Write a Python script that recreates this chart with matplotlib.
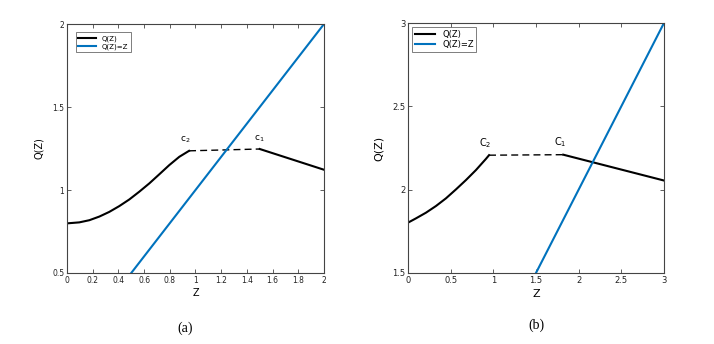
import numpy as np
import matplotlib.pyplot as plt

# panel (a) data
za = [0, 0.096, 0.174, 0.252, 0.329, 0.407, 0.485, 0.563, 0.641, 0.719, 0.796, 0.874, 0.95]
qa = [0.799, 0.805, 0.818, 0.840, 0.868, 0.903, 0.943, 0.99, 1.04, 1.095, 1.15, 1.200, 1.236]
za_flat = [0.95, 1.5]
qa_flat = [1.236, 1.247]
za_tail = [1.5, 2.0]
qa_tail = [1.247, 1.122]
za_id = [0.5, 2.0]

# panel (b) data
zb = [0, 0.094, 0.211, 0.328, 0.445, 0.563, 0.68, 0.797, 0.914, 0.95]
qb = [1.802, 1.828, 1.862, 1.902, 1.948, 2.002, 2.058, 2.118, 2.185, 2.207]
zb_flat = [0.95, 1.82]
qb_flat = [2.207, 2.21]
zb_tail = [1.82, 3.0]
qb_tail = [2.21, 2.055]
zb_id = [1.5, 3.0]

blue = '#0072BD'
plt.rcParams['font.family'] = 'DejaVu Sans'

fig = plt.figure(figsize=(7.14, 3.44), dpi=100)
ax1 = fig.add_axes([0.0938, 0.2064, 0.36, 0.7238])
ax2 = fig.add_axes([0.5714, 0.2064, 0.3585, 0.7266])


def style(ax, fs):
    for s in ax.spines.values():
        s.set_color('#444444')
        s.set_linewidth(0.8)
    ax.tick_params(direction='in', length=3, width=0.6, labelsize=fs,
                   top=True, right=True, colors='#444444', labelcolor='#222222', pad=2)


ax1.plot(za, qa, color='k', lw=1.5, label='Q(Z)')
ax1.plot(za_flat, qa_flat, color='k', lw=1.0, ls=(0, (5, 3)))
ax1.plot(za_tail, qa_tail, color='k', lw=1.5)
ax1.plot(za_id, za_id, color=blue, lw=1.5, label='Q(Z)=Z')
ax1.set_xlim(0, 2)
ax1.set_ylim(0.5, 2)
ax1.set_xticks(np.arange(0, 2.01, 0.2))
ax1.set_xticklabels(['0', '0.2', '0.4', '0.6', '0.8', '1', '1.2', '1.4', '1.6', '1.8', '2'])
ax1.set_yticks([0.5, 1, 1.5, 2])
ax1.set_yticklabels(['0.5', '1', '1.5', '2'])
style(ax1, 5.5)
ax1.set_xlabel('Z', fontsize=7, labelpad=2)
ax1.set_ylabel('Q(Z)', fontsize=7, labelpad=6)
ax1.text(0.92, 1.27, 'c$_2$', fontsize=6.5, ha='center', va='bottom')
ax1.text(1.5, 1.275, 'c$_1$', fontsize=6.5, ha='center', va='bottom')
ax1.legend(loc='upper left', fontsize=5, frameon=True, fancybox=False,
           edgecolor='#444444', handlelength=2.5, borderpad=0.4, labelspacing=0.2,
           bbox_to_anchor=(0.02, 0.98)).get_frame().set_linewidth(0.6)

ax2.plot(zb, qb, color='k', lw=1.5, label='Q(Z)')
ax2.plot(zb_flat, qb_flat, color='k', lw=1.0, ls=(0, (5, 3)))
ax2.plot(zb_tail, qb_tail, color='k', lw=1.5)
ax2.plot(zb_id, zb_id, color=blue, lw=1.5, label='Q(Z)=Z')
ax2.set_xlim(0, 3)
ax2.set_ylim(1.5, 3)
ax2.set_xticks(np.arange(0, 3.01, 0.5))
ax2.set_xticklabels(['0', '0.5', '1', '1.5', '2', '2.5', '3'])
ax2.set_yticks([1.5, 2, 2.5, 3])
ax2.set_yticklabels(['1.5', '2', '2.5', '3'])
style(ax2, 6)
ax2.set_xlabel('Z', fontsize=8, labelpad=3)
ax2.set_ylabel('Q(Z)', fontsize=8, labelpad=6)
ax2.text(0.9, 2.24, 'C$_2$', fontsize=7, ha='center', va='bottom')
ax2.text(1.78, 2.245, 'C$_1$', fontsize=7, ha='center', va='bottom')
ax2.legend(loc='upper left', fontsize=6, frameon=True, fancybox=False,
           edgecolor='#444444', handlelength=2.5, borderpad=0.3, labelspacing=0.2,
           bbox_to_anchor=(0.0, 1.0)).get_frame().set_linewidth(0.6)

fig.text(0.259, 0.036, '(a)', fontsize=10, family='Liberation Serif', ha='center')
fig.text(0.751, 0.043, '(b)', fontsize=10, family='Liberation Serif', ha='center')

fig.savefig('out.png', dpi=100)
